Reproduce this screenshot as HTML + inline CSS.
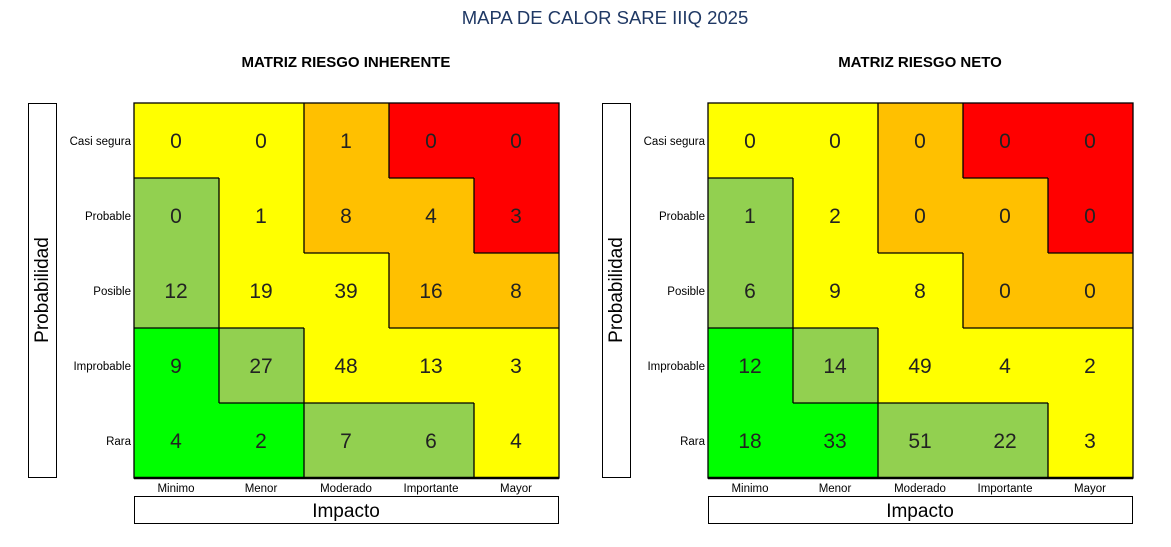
<!DOCTYPE html>
<html><head><meta charset="utf-8"><style>
body{margin:0;background:#fff}
svg text{font-family:"Liberation Sans",sans-serif}
</style></head><body>
<svg id="s" width="1171" height="542" xmlns="http://www.w3.org/2000/svg">
<text x="605" y="24" text-anchor="middle" font-size="18.5" fill="#1F3864">MAPA DE CALOR SARE IIIQ 2025</text>
<g id="p0">
<text x="346" y="67" text-anchor="middle" font-size="15" font-weight="bold">MATRIZ RIESGO INHERENTE</text>
<g class="grid"></g>
<g font-size="11.5" text-anchor="end"><text x="131" y="145">Casi segura</text><text x="131" y="220">Probable</text><text x="131" y="295">Posible</text><text x="131" y="370">Improbable</text><text x="131" y="445">Rara</text></g>
<g font-size="11.5" text-anchor="middle"><text x="176" y="492">Minimo</text><text x="261" y="492">Menor</text><text x="346" y="492">Moderado</text><text x="431" y="492">Importante</text><text x="516" y="492">Mayor</text></g>
<rect x="134.5" y="496.5" width="424" height="27" fill="none" stroke="#000"/>
<text x="346" y="517" text-anchor="middle" font-size="19">Impacto</text>
<rect x="28.5" y="103.5" width="28" height="374" fill="none" stroke="#000"/>
<text transform="translate(48,290) rotate(-90)" text-anchor="middle" font-size="19">Probabilidad</text>
<g font-size="21" text-anchor="middle" fill="#222">
<text x="176" y="148">0</text><text x="261" y="148">0</text><text x="346" y="148">1</text><text x="431" y="148">0</text><text x="516" y="148">0</text>
<text x="176" y="223">0</text><text x="261" y="223">1</text><text x="346" y="223">8</text><text x="431" y="223">4</text><text x="516" y="223">3</text>
<text x="176" y="298">12</text><text x="261" y="298">19</text><text x="346" y="298">39</text><text x="431" y="298">16</text><text x="516" y="298">8</text>
<text x="176" y="373">9</text><text x="261" y="373">27</text><text x="346" y="373">48</text><text x="431" y="373">13</text><text x="516" y="373">3</text>
<text x="176" y="448">4</text><text x="261" y="448">2</text><text x="346" y="448">7</text><text x="431" y="448">6</text><text x="516" y="448">4</text>
</g></g>
<g transform="translate(574,0)">
<text x="346" y="67" text-anchor="middle" font-size="15" font-weight="bold">MATRIZ RIESGO NETO</text>
<g class="grid"></g>
<g font-size="11.5" text-anchor="end"><text x="131" y="145">Casi segura</text><text x="131" y="220">Probable</text><text x="131" y="295">Posible</text><text x="131" y="370">Improbable</text><text x="131" y="445">Rara</text></g>
<g font-size="11.5" text-anchor="middle"><text x="176" y="492">Minimo</text><text x="261" y="492">Menor</text><text x="346" y="492">Moderado</text><text x="431" y="492">Importante</text><text x="516" y="492">Mayor</text></g>
<rect x="134.5" y="496.5" width="424" height="27" fill="none" stroke="#000"/>
<text x="346" y="517" text-anchor="middle" font-size="19">Impacto</text>
<rect x="28.5" y="103.5" width="28" height="374" fill="none" stroke="#000"/>
<text transform="translate(48,290) rotate(-90)" text-anchor="middle" font-size="19">Probabilidad</text>
<g font-size="21" text-anchor="middle" fill="#222">
<text x="176" y="148">0</text><text x="261" y="148">0</text><text x="346" y="148">0</text><text x="431" y="148">0</text><text x="516" y="148">0</text>
<text x="176" y="223">1</text><text x="261" y="223">2</text><text x="346" y="223">0</text><text x="431" y="223">0</text><text x="516" y="223">0</text>
<text x="176" y="298">6</text><text x="261" y="298">9</text><text x="346" y="298">8</text><text x="431" y="298">0</text><text x="516" y="298">0</text>
<text x="176" y="373">12</text><text x="261" y="373">14</text><text x="346" y="373">49</text><text x="431" y="373">4</text><text x="516" y="373">2</text>
<text x="176" y="448">18</text><text x="261" y="448">33</text><text x="346" y="448">51</text><text x="431" y="448">22</text><text x="516" y="448">3</text>
</g></g>
</svg>
<script>
var M=["YYORR","GYOOR","GYYOO","BGYYY","BBGGY"],C={Y:"#FFFF00",O:"#FFC000",R:"#FF0000",G:"#92D050",B:"#00FF00"};
var X=134,Y=103,W=85,H=75,s="";
for(var r=0;r<5;r++)for(var c=0;c<5;c++)s+='<rect x="'+(X+c*W)+'" y="'+(Y+r*H)+'" width="'+W+'" height="'+H+'" fill="'+C[M[r][c]]+'"/>';
function L(a,b,c,d){s+='<line x1="'+a+'" y1="'+b+'" x2="'+c+'" y2="'+d+'" stroke="#000" stroke-width="1.3"/>';}
for(var r=0;r<4;r++)for(var c=0;c<5;c++)if(M[r][c]!=M[r+1][c])L(X+c*W,Y+(r+1)*H,X+(c+1)*W,Y+(r+1)*H);
for(var r=0;r<5;r++)for(var c=0;c<4;c++)if(M[r][c]!=M[r][c+1])L(X+(c+1)*W,Y+r*H,X+(c+1)*W,Y+(r+1)*H);
s+='<rect x="'+X+'" y="'+Y+'" width="'+(5*W)+'" height="'+(5*H)+'" fill="none" stroke="#000" stroke-width="1.3"/>';
s+='<line x1="'+X+'" y1="'+(Y+5*H)+'" x2="'+(X+5*W)+'" y2="'+(Y+5*H)+'" stroke="#000" stroke-width="2.5"/>';
document.querySelectorAll(".grid").forEach(function(g){g.innerHTML=s;});
</script>
</body></html>
